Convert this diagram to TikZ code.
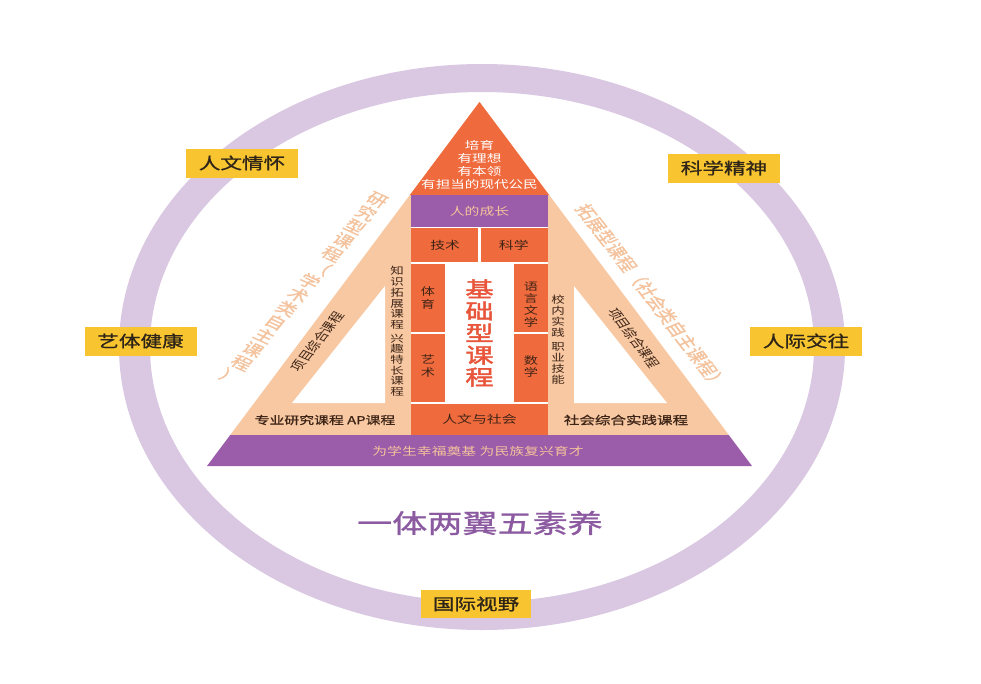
\documentclass[tikz,border=0pt]{standalone}
\usepackage{fontspec}
\newfontfamily\cjk[FakeStretch=1.35]{Noto Sans CJK SC}
\newfontfamily\cjkm[FakeStretch=1.35,FakeBold=1]{Noto Sans CJK SC}
\newfontfamily\cjkb[FakeStretch=1.35,FakeBold=2]{Noto Sans CJK SC}
\newfontfamily\cjkn{Noto Sans CJK SC}
\newfontfamily\cjknm[FakeBold=1]{Noto Sans CJK SC}
\definecolor{ringc}{HTML}{DAC8E2}
\definecolor{tagc}{HTML}{F8C530}
\definecolor{tagtxt}{HTML}{2E2418}
\definecolor{peach}{HTML}{F7C8A2}
\definecolor{orng}{HTML}{EF6A3D}
\definecolor{purp}{HTML}{9B5CA9}
\definecolor{peachtxt}{HTML}{F4C29C}
\definecolor{darkt}{HTML}{3E2416}
\definecolor{titlec}{HTML}{8C5AA0}
\definecolor{redt}{HTML}{E8553A}
\tikzset{
  yellowtag/.style={fill=tagc, minimum width=112pt, minimum height=29pt, inner sep=0pt,
    text=tagtxt, font=\cjkm\fontsize{16}{18}\selectfont},
  boxtext/.style={inner sep=0pt, align=center, text=darkt},
  sep/.style={white, line width=2.5pt},
}
\begin{document}
\begin{tikzpicture}[x=1pt,y=-1pt]
\useasboundingbox (0,0) rectangle (981,683);
\fill[white] (0,0) rectangle (981,683);
% ring
\fill[ringc, even odd rule] (482,347) ellipse [x radius=363pt, y radius=283pt]
  (482,347) ellipse [x radius=332pt, y radius=255pt];
% pyramid
\coordinate (apex) at (479.5,102);
\fill[peach] (apex) -- (728.8,435) -- (230.2,435) -- cycle;
\fill[white] (385,286) -- (385,403) -- (292,403) -- cycle;
\fill[white] (574,286) -- (574,403) -- (667,403) -- cycle;
\fill[purp] (230.2,435) -- (728.8,435) -- (752,466) -- (207,466) -- cycle;
\fill[orng] (apex) -- (549.1,195) -- (409.9,195) -- cycle;
\fill[purp] (411,195) rectangle (548,227);
\fill[orng] (411,227) rectangle (548,435);
\fill[white] (445,263) rectangle (514,403);
\draw[sep] (411,263) -- (548,263) (411,403) -- (548,403) (479.5,227) -- (479.5,263)
  (411,333) -- (445,333) (514,333) -- (548,333);
\draw[white, line width=1pt] (411,227) -- (548,227);
% top texts
\node[boxtext, text=white, font=\cjk\fontsize{10.8}{13}\selectfont] (peiyu) at (479.5,165)
  {培育\\有理想\\有本领\\有担当的现代公民};
\node[boxtext, text=peachtxt, font=\cjk\fontsize{11}{13}\selectfont] (chengzhang) at (479.5,211) {人的成长};
\node[boxtext, font=\cjk\fontsize{11}{13}\selectfont] (jishu) at (445.2,245) {技术};
\node[boxtext, font=\cjk\fontsize{11}{13}\selectfont] (kexue) at (513.8,245) {科学};
\node[boxtext, font=\cjk\fontsize{10.5}{13}\selectfont] (tiyu) at (428,298.5) {体\\育};
\node[boxtext, font=\cjk\fontsize{10.5}{13}\selectfont] (yishu) at (428,366.5) {艺\\术};
\node[boxtext, font=\cjk\fontsize{10.5}{12}\selectfont] (yuyan) at (531,305) {语\\言\\文\\学};
\node[boxtext, font=\cjk\fontsize{10.5}{12}\selectfont] (shuxue) at (531,366.5) {数\\学};
\node[boxtext, text=redt, font=\cjkb\fontsize{21}{22}\selectfont] (jichu) at (479.5,333)
  {基\\础\\型\\课\\程};
\node[boxtext, font=\cjk\fontsize{11}{13}\selectfont] (renwen) at (479.5,419.5) {人文与社会};
% wing texts
\node[boxtext, font=\cjk\fontsize{10}{10.7}\selectfont] (zhishi) at (397,331.5)
  {知\\识\\拓\\展\\课\\程\\[3pt]兴\\趣\\特\\长\\课\\程};
\node[boxtext, font=\cjk\fontsize{10}{11}\selectfont] (xiaonei) at (558,340)
  {校\\内\\实\\践\\[3pt]职\\业\\技\\能};
\node[boxtext, font=\cjkm\fontsize{11}{13}\selectfont] (zhuanye) at (325,420) {专业研究课程 AP课程};
\node[boxtext, font=\cjkm\fontsize{11.5}{13}\selectfont] (shehui) at (626,420) {社会综合实践课程};
\node[boxtext, text=peachtxt, font=\cjk\fontsize{11}{13}\selectfont] (bottom) at (478,451)
  {为学生幸福奠基 为民族复兴育才};
\node[boxtext, xscale=1.35, rotate=-31.6, text=peachtxt, font=\cjknm\fontsize{15}{16}\selectfont]
  (lwing) at (303.5,288.5) {研\\究\\型\\课\\程\\（\\学\\术\\类\\自\\主\\课\\程\\）};
\node[boxtext, xscale=1.35, rotate=-60.3, text=peachtxt, font=\cjknm\fontsize{15}{16}\selectfont]
  (rwing) at (651.5,296.5) {拓展型课程（社会类自主课程）};
\node[boxtext, xscale=1.35, rotate=59.7, font=\cjkn\fontsize{11}{12}\selectfont]
  (linner) at (317.5,341.5) {项目综合课程};
\node[boxtext, xscale=1.35, rotate=-60.7, font=\cjkn\fontsize{11}{12}\selectfont]
  (rinner) at (634,338) {项目综合课程};
% title
\node[inner sep=0pt, text=titlec, font=\cjkm\fontsize{26}{28}\selectfont] (title) at (480,523) {一体两翼五素养};
% tags
\node[yellowtag] (renwenqh) at (242,163) {人文情怀};
\node[yellowtag] (kexuejs) at (724,168) {科学精神};
\node[yellowtag] (yiti) at (140.5,341) {艺体健康};
\node[yellowtag] (renji) at (806,341) {人际交往};
\node[yellowtag, minimum width=110pt, minimum height=28pt] (guoji) at (476,604) {国际视野};
\end{tikzpicture}
\end{document}
